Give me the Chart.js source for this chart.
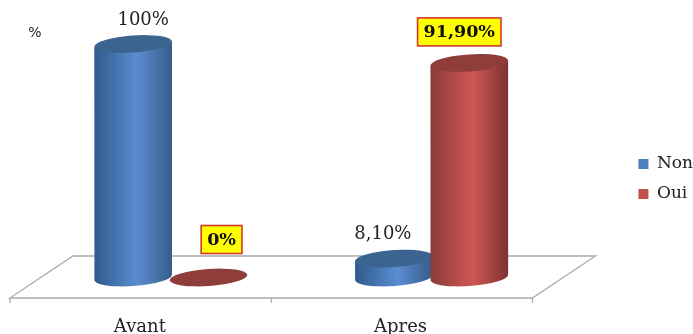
<!DOCTYPE html>
<html><head><meta charset="utf-8">
<style>html,body{margin:0;padding:0;background:#fff}canvas{display:block}</style>
<script src="https://cdn.jsdelivr.net/npm/chart.js@4"></script>
</head><body><canvas id="c" width="693" height="334"></canvas>
<script>
const categories = ["Avant", "Apres"];
const nonValues = [100, 8.1];
const ouiValues = [0, 91.9];
const nonLabels = ["100%", "8,10%"];
const ouiLabels = ["0%", "91,90%"];
const yTitle = "%";

const SERIF = '"DejaVu Serif", serif';
const palette = {
  Non: {solid:"#4F81BD", dark:"#2F5A8C", light:"#5A8DD0", dark2:"#375C88", top:"#3C6491"},
  Oui: {solid:"#C0504D", dark:"#8A3B39", light:"#CF5755", dark2:"#7C3230", top:"#8F3D3B"}
};
/* label placement relative to each bar's top: dx, dy, boxed */
const labelPlacement = {
  Non: [{dx:10,dy:-25,box:false},{dx:-11,dy:-25,box:false}],
  Oui: [{dx:13,dy:-38,box:true},{dx:-10,dy:-31,box:true}]
};
const textFor = {Non:nonLabels, Oui:ouiLabels};
const TILT = -4*Math.PI/180, RY = 8.5;

function ell(ctx,x,y,rx){ctx.beginPath();ctx.ellipse(x,y,rx,RY,TILT,0,Math.PI*2);ctx.closePath();}

const cylinder = {
  id:"cylinder",
  afterLayout(chart){
    const l=chart.legend;
    l.top-=10;l.bottom-=10;l.left+=10;l.right+=10;
  },
  beforeDatasetsDraw(chart){
    const {ctx,scales:{x,y}}=chart, base=y.getPixelForValue(0);
    const fl=x.left-30.5, fr=x.right-29.5, bl=x.left+32.5, br=x.right+33.5, fy=base+20.5, by=base-21.5;
    ctx.save();
    ctx.strokeStyle="#ABABAB";ctx.lineWidth=1.3;
    ctx.beginPath();ctx.moveTo(fl,fy);ctx.lineTo(fr,fy);ctx.lineTo(br,by);ctx.lineTo(bl,by);ctx.closePath();ctx.stroke();
    const mid=(fl+fr)/2;
    ctx.beginPath();
    for(const t of [fl,mid,fr]){ctx.moveTo(t,fy);ctx.lineTo(t,fy+5);}
    ctx.stroke();
    ctx.font='14px "DejaVu Sans", sans-serif';ctx.fillStyle="#222";ctx.textAlign="center";ctx.textBaseline="middle";
    ctx.fillText(yTitle,35,33);
    ctx.restore();
  },
  beforeDatasetDraw(){ return false; },
  afterDatasetsDraw(chart){
    const {ctx,scales:{y}}=chart, base=y.getPixelForValue(0);
    chart.data.datasets.forEach((d,i)=>{
      const p=palette[d.label];
      chart.getDatasetMeta(i).data.forEach(b=>{
        const rx=b.width/2, l=b.x-rx, r=b.x+rx, top=b.y;
        ctx.save();
        if(base-top>1){
          const g=ctx.createLinearGradient(l,0,r,0);
          g.addColorStop(0,p.dark);g.addColorStop(.55,p.light);g.addColorStop(1,p.dark2);
          ctx.fillStyle=g;
          ctx.beginPath();
          const dy=Math.tan(-TILT)*rx;
          ctx.moveTo(l,top+dy);ctx.lineTo(r,top-dy);ctx.lineTo(r,base-dy);
          ctx.ellipse(b.x,base,rx,RY,TILT,0,Math.PI);
          ctx.closePath();ctx.fill();
        }
        ctx.fillStyle=p.top;ell(ctx,b.x,top,rx);ctx.fill();
        ctx.restore();
      });
    });
    chart.data.datasets.forEach((d,i)=>{
      chart.getDatasetMeta(i).data.forEach((b,j)=>{
        const pl=labelPlacement[d.label][j], t=textFor[d.label][j], cx=b.x+pl.dx, cy=b.y+pl.dy;
        ctx.save();ctx.textAlign="center";ctx.textBaseline="middle";
        if(pl.box){
          ctx.font='bold 17.5px '+SERIF;
          const w=ctx.measureText(t).width+12, h=28;
          ctx.fillStyle="#FFFF00";ctx.strokeStyle="#D2392B";ctx.lineWidth=1.6;
          ctx.fillRect(cx-w/2,cy-h/2,w,h);ctx.strokeRect(cx-w/2,cy-h/2,w,h);
          ctx.fillStyle="#111";
        }else{
          ctx.font='18px '+SERIF;ctx.fillStyle="#222";
        }
        ctx.fillText(t,cx,cy+1);
        ctx.restore();
      });
    });
  }
};

new Chart(document.getElementById("c"),{
  type:"bar",
  data:{labels:categories,datasets:[
    {label:"Non",data:nonValues,backgroundColor:palette.Non.solid,barPercentage:1.03,categoryPercentage:.5785},
    {label:"Oui",data:ouiValues,backgroundColor:palette.Oui.solid,barPercentage:1.03,categoryPercentage:.5785}
  ]},
  plugins:[cylinder],
  options:{
    responsive:false,animation:false,
    layout:{padding:{left:40.5,right:0,top:44,bottom:0}},
    plugins:{
      tooltip:{enabled:false},
      legend:{position:"right",labels:{boxWidth:10,boxHeight:10,padding:13,color:"#222",font:{family:SERIF,size:17}}}
    },
    scales:{
      x:{offset:true,grid:{display:false},border:{display:false},
        ticks:{autoSkip:false,maxRotation:0,labelOffset:-31,padding:31,color:"#222",font:{family:SERIF,size:18}},
        afterFit(s){s.height=56.5;}},
      y:{display:false,min:0,max:100},
      y2:{position:"right",min:0,max:100,grid:{display:false},border:{display:false},ticks:{display:false},
        afterFit(s){s.width=53.5;}}
    }
  }
});
</script></body></html>
